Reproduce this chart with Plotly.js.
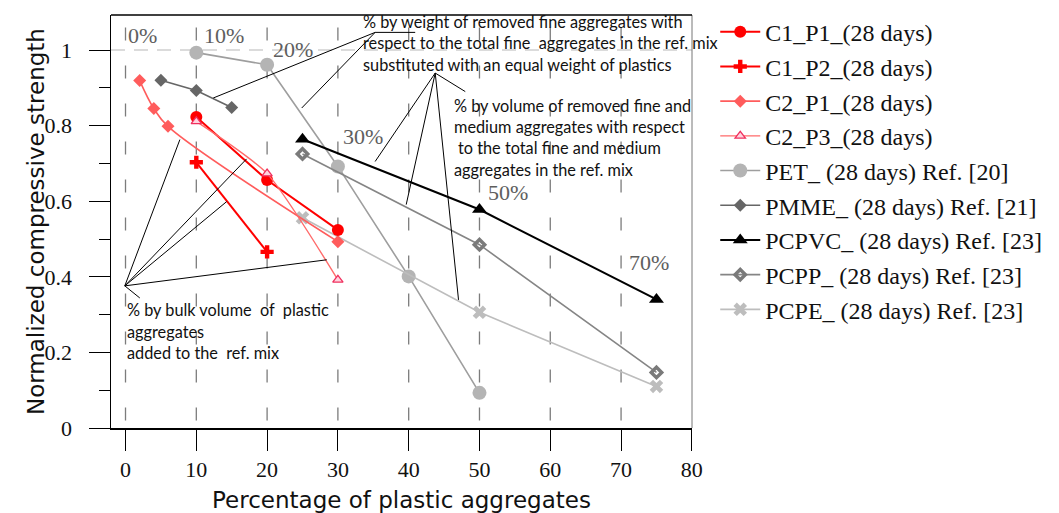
<!DOCTYPE html>
<html>
<head>
<meta charset="utf-8">
<script src="https://cdn.plot.ly/plotly-3.0.1.min.js"></script>
<style>
  html, body { margin: 0; padding: 0; background: #fff; }
  #chart { width: 1059px; height: 513px; }
</style>
</head>
<body>
<div id="chart"></div>
<script>
// Normalized compressive strength vs. plastic aggregate content (28 days)
const xC1P1 = [10, 20, 30];
const yC1P1 = [0.823, 0.656, 0.524];
const xC1P2 = [10, 20];
const yC1P2 = [0.703, 0.466];
const xC2P1 = [2, 4, 6, 30];
const yC2P1 = [0.919, 0.845, 0.798, 0.493];
const xC2P3 = [10, 20, 30];
const yC2P3 = [0.811, 0.673, 0.392];
const xPET = [10, 20, 30, 40, 50];
const yPET = [0.993, 0.961, 0.692, 0.401, 0.093];
const xPMME = [5, 10, 15];
const yPMME = [0.920, 0.893, 0.848];
const xPCPVC = [25, 50, 75];
const yPCPVC = [0.764, 0.578, 0.340];
const xPCPP = [25, 50, 75];
const yPCPP = [0.725, 0.485, 0.147];
const xPCPE = [25, 50, 75];
const yPCPE = [0.556, 0.306, 0.110];

const seriesNames = [
  'C1_P1_(28 days)', 'C1_P2_(28 days)', 'C2_P1_(28 days)', 'C2_P3_(28 days)',
  'PET_ (28 days) Ref. [20]', 'PMME_ (28 days) Ref. [21]', 'PCPVC_ (28 days) Ref. [23]',
  'PCPP_ (28 days) Ref. [23]', 'PCPE_ (28 days) Ref. [23]'
];

const xTicks = [0, 10, 20, 30, 40, 50, 60, 70, 80];
const yTicks = [0, 0.2, 0.4, 0.6, 0.8, 1];
const yTickText = ['0', '0.2', '0.4', '0.6', '0.8', '1'];

// replacement-level labels written next to the curves
const pctText = ['0%', '10%', '20%', '30%', '50%', '70%'];
const pctX = [2.35, 13.97, 23.6, 33.55, 53.99, 73.88];
const pctY = [1.038, 1.038, 1.001, 0.771, 0.624, 0.437];

// explanatory notes, one entry per text line
const noteLines = [
  '% by weight of removed fine aggregates with',
  'respect to the total fine\u00a0 aggregates in the ref. mix',
  'substituted with an equal weight of plastics',
  '% by volume of removed fine and',
  'medium aggregates with respect',
  'to the total fine and medium',
  'aggregates in the ref. mix',
  '% by bulk volume\u00a0 of\u00a0 plastic',
  'aggregates',
  'added to the\u00a0 ref. mix'
];
const noteX = [33.24, 33.24, 33.24, 46.11, 46.11, 46.72, 46.11, -0.1, -0.1, -0.1];
const noteY = [1.076, 1.019, 0.961, 0.854, 0.798, 0.742, 0.684, 0.313, 0.255, 0.199];

// leader lines from the notes to the curves: [x0, y0, x1, y1]
const leaders = [
  [35.26, 1.0466, 40.92, 1.0466],
  [35.26, 1.0466, 12.39, 0.873],
  [35.26, 1.0466, 24.89, 0.8466],
  [43.75, 0.939, 47.99, 0.890],
  [43.75, 0.939, 35.26, 0.705],
  [43.75, 0.939, 39.65, 0.591],
  [43.75, 0.939, 47.04, 0.339],
  [-0.1, 0.376, 2.02, 0.344],
  [-0.1, 0.376, 7.68, 0.763],
  [-0.1, 0.376, 17.11, 0.712],
  [-0.1, 0.376, 14.29, 0.599],
  [-0.1, 0.376, 28.43, 0.445]
];

const serif = 'Liberation Serif, Times New Roman, serif';
const sans = 'DejaVu Sans, Verdana, sans-serif';
const noteFont = 'Lato, Carlito, Calibri, sans-serif';

function trace(i, x, y, lineOpts, markerOpts) {
  return {
    type: 'scatter', mode: 'lines+markers', name: seriesNames[i],
    x: x, y: y, legendgroup: 'g' + i, legendrank: i + 1,
    line: lineOpts, marker: markerOpts, cliponaxis: false
  };
}

const data = [
  trace(4, xPET, yPET, {color: '#9e9e9e', width: 1.6}, {symbol: 'circle', size: 14, color: '#b4b4b4'}),
  trace(5, xPMME, yPMME, {color: '#666666', width: 1.6}, {symbol: 'diamond', size: 10, color: '#666666'}),
  trace(6, xPCPVC, yPCPVC, {color: '#000000', width: 2}, {symbol: 'triangle-up', size: 13, color: '#000000'}),
  trace(7, xPCPP, yPCPP, {color: '#858585', width: 1.6}, {symbol: 'diamond-open', size: 8, color: '#7a7a7a', line: {width: 3.5, color: '#7a7a7a'}}),
  trace(8, xPCPE, yPCPE, {color: '#bdbdbd', width: 1.6}, {symbol: 'x', size: 12, color: '#bdbdbd'}),
  trace(2, xC2P1, yC2P1, {color: '#ff5c5c', width: 1.6, shape: 'spline', smoothing: 1}, {symbol: 'diamond', size: 10, color: '#ff5c5c'}),
  trace(0, xC1P1, yC1P1, {color: '#ff0000', width: 2}, {symbol: 'circle', size: 12, color: '#ff0000'}),
  trace(1, xC1P2, yC1P2, {color: '#ff0000', width: 2}, {symbol: 'cross', size: 11, color: '#ff0000'}),
  trace(3, xC2P3, yC2P3, {color: '#ff6a6a', width: 1.4, shape: 'spline', smoothing: 0.6}, {symbol: 'triangle-up', size: 9, color: '#ffd3de', line: {width: 1.3, color: '#f0305e'}})
];

const shapes = [];
// dashed vertical guides at each x tick
xTicks.slice(0, 8).forEach(v => shapes.push({
  type: 'line', xref: 'x', yref: 'y', x0: v, x1: v, y0: -0.081, y1: 1.1,
  line: {color: '#7c7c7c', width: 1.3, dash: '13px,25px'}, layer: 'below'
}));
// light dashed reference line at full strength
shapes.push({
  type: 'line', xref: 'paper', yref: 'y', x0: 0, x1: 1, y0: 1, y1: 1,
  line: {color: '#cfcfcf', width: 1.3, dash: '14px,9px'}, layer: 'below'
});
// frame edges (top and right)
shapes.push({
  type: 'line', xref: 'paper', yref: 'paper', x0: 1, x1: 1, y0: 0, y1: 1,
  line: {color: '#777777', width: 1}
});
shapes.push({
  type: 'line', xref: 'paper', yref: 'paper', x0: 0, x1: 1, y0: 1, y1: 1,
  line: {color: '#000000', width: 1.5}
});
leaders.forEach(s => shapes.push({
  type: 'line', xref: 'x', yref: 'y', x0: s[0], y0: s[1], x1: s[2], y1: s[3],
  line: {color: '#000000', width: 1}
}));

const annotations = [];
pctText.forEach((t, i) => annotations.push({
  text: t, x: pctX[i], y: pctY[i], xref: 'x', yref: 'y', showarrow: false,
  xanchor: 'center', yanchor: 'middle', font: {family: serif, size: 22, color: '#5e5e5e'}
}));
noteLines.forEach((t, i) => annotations.push({
  text: t, x: noteX[i], y: noteY[i], xref: 'x', yref: 'y', showarrow: false,
  xanchor: 'left', yanchor: 'middle', font: {family: noteFont, size: 16.3, color: '#111111'}
}));
// y-axis title
annotations.push({
  text: 'Normalized compressive strength', textangle: -90,
  xref: 'paper', yref: 'paper', x: -0.13, y: 0.5, xanchor: 'center', yanchor: 'middle',
  showarrow: false, font: {family: sans, size: 23, color: '#111'}
});

const layout = {
  width: 1059, height: 513,
  margin: {l: 111, r: 367, t: 15, b: 85, autoexpand: false},
  paper_bgcolor: '#ffffff', plot_bgcolor: '#ffffff',
  showlegend: true,
  legend: {
    x: 1.04, xanchor: 'left', y: 1.013, yanchor: 'top',
    font: {family: serif, size: 24, color: '#111111'},
    tracegroupgap: 0.5, bgcolor: 'rgba(0,0,0,0)', maxheight: 500, itemwidth: 40
  },
  xaxis: {
    range: [-2.05, 80.02], tickvals: xTicks, ticktext: xTicks.map(String),
    ticks: 'outside', ticklen: 21, tickwidth: 1, tickcolor: '#000',
    showline: true, linecolor: '#000', linewidth: 1.5, mirror: false,
    showgrid: false, zeroline: false,
    tickfont: {family: serif, size: 22, color: '#111'},
    title: {text: 'Percentage of plastic aggregates', font: {family: sans, size: 23, color: '#111'}, standoff: 12}
  },
  yaxis: {
    range: [0, 1.0926], tickvals: yTicks, ticktext: yTickText,
    ticks: 'outside', ticklen: 21, tickwidth: 1, tickcolor: '#000',
    minor: {dtick: 0.1, ticklen: 11, tickwidth: 1, tickcolor: '#000', ticks: 'outside', showgrid: false},
    showline: true, linecolor: '#000', linewidth: 1.5, mirror: false,
    showgrid: false, zeroline: false, ticklabelstandoff: 12,
    tickfont: {family: serif, size: 22, color: '#111'}
  },
  shapes: shapes,
  annotations: annotations
};

Plotly.newPlot('chart', data, layout, {displayModeBar: false, staticPlot: true});
</script>
</body>
</html>
